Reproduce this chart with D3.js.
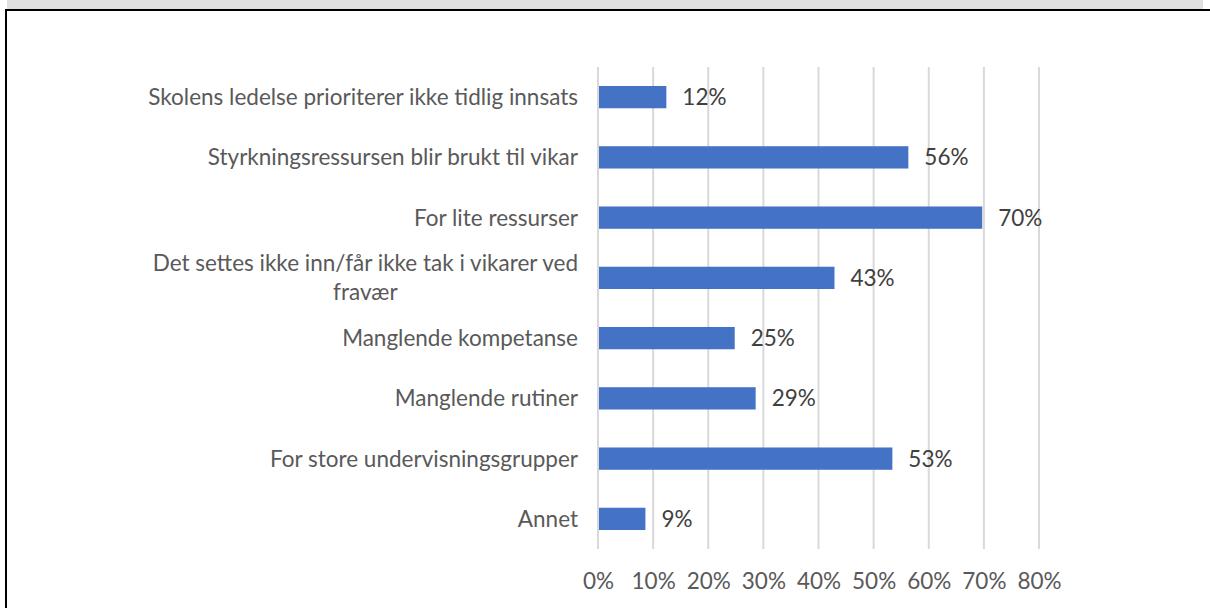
<!DOCTYPE html>
<html><head><meta charset="utf-8">
<script src="https://cdn.jsdelivr.net/npm/d3@7"></script>
<style>html,body{margin:0;padding:0;background:#fff;} svg{display:block}</style>
</head><body>
<svg id="c" width="1210" height="608"></svg>
<script>
const categories = [
  "Skolens ledelse prioriterer ikke tidlig innsats",
  "Styrkningsressursen blir brukt til vikar",
  "For lite ressurser",
  "Det settes ikke inn/får ikke tak i vikarer ved fravær",
  "Manglende kompetanse",
  "Manglende rutiner",
  "For store undervisningsgrupper",
  "Annet"
];
const values = [0.124, 0.563, 0.697, 0.429, 0.248, 0.286, 0.534, 0.086];
const tickValues = [0, 0.1, 0.2, 0.3, 0.4, 0.5, 0.6, 0.7, 0.8];

const FONT = "Lato, 'Open Sans', sans-serif";
const FS = 22.5;
const svg = d3.select("#c");

// frame
svg.append("rect").attr("x", 7).attr("y", 0).attr("width", 1196).attr("height", 9).attr("fill", "#e0e0e0");
svg.append("rect").attr("x", 5).attr("y", 9).attr("width", 1205).attr("height", 2).attr("fill", "#000");
svg.append("rect").attr("x", 5).attr("y", 9).attr("width", 2).attr("height", 599).attr("fill", "#000");

const x = d3.scaleLinear().domain([0, 0.8]).range([598, 1039]);
const y = d3.scaleBand().domain(categories).range([67, 549]).paddingInner(0.63).paddingOuter(0.315);

// gridlines
svg.append("g").selectAll("line").data(tickValues).join("line")
  .attr("x1", d => x(d)).attr("x2", d => x(d))
  .attr("y1", 67).attr("y2", 549)
  .attr("stroke", "#d9d9d9").attr("stroke-width", 2);

// x axis labels
const xAxis = d3.axisBottom(x).tickValues(tickValues).tickFormat(d3.format(".0%")).tickSize(0).tickPadding(0);
const gx = svg.append("g").attr("transform", "translate(0,573)").call(xAxis);
gx.select(".domain").remove();
gx.selectAll("text").attr("font-family", FONT).attr("font-size", FS).attr("fill", "#595959").attr("dy", null).attr("y", 16);

// bars
svg.append("g").selectAll("rect").data(values).join("rect")
  .attr("x", x(0) + 1)
  .attr("y", (d, i) => y(categories[i]))
  .attr("width", d => x(d) - x(0) - 1)
  .attr("height", y.bandwidth())
  .attr("fill", "#4472c4");

// data labels
svg.append("g").selectAll("text").data(values).join("text")
  .attr("x", d => x(d) + 16)
  .attr("y", (d, i) => y(categories[i]) + y.bandwidth() / 2)
  .attr("dy", "0.36em")
  .attr("font-family", FONT).attr("font-size", FS).attr("fill", "#404040")
  .text(d => d3.format(".0%")(d));

// category labels with wrapping
const yAxis = d3.axisLeft(y).tickSize(0).tickPadding(20);
const gy = svg.append("g").attr("transform", `translate(${x(0)},0)`).call(yAxis);
gy.select(".domain").remove();
gy.selectAll("text").attr("font-family", FONT).attr("font-size", FS).attr("fill", "#595959");

function wrap(texts, width) {
  texts.each(function() {
    const t = d3.select(this);
    const words = t.text().split(/\s+/);
    const lines = [];
    let line = [];
    t.text(null);
    const probe = t.append("tspan");
    for (const w of words) {
      line.push(w);
      probe.text(line.join(" "));
      if (probe.node().getComputedTextLength() > width && line.length > 1) {
        line.pop();
        lines.push(line.join(" "));
        line = [w];
      }
    }
    lines.push(line.join(" "));
    probe.remove();
    if (lines.length === 1) { t.text(lines[0]); return; }
    const widths = lines.map(l => { const s = t.append("tspan").text(l); const w = s.node().getComputedTextLength(); s.remove(); return w; });
    const maxW = d3.max(widths);
    const x0 = +t.attr("x");
    const lh = 29;
    const top = -(lines.length - 1) * lh / 2;
    lines.forEach((l, i) => {
      t.append("tspan")
        .attr("x", x0 - (maxW - widths[i]) / 2)
        .attr("y", top + i * lh)
        .attr("dy", "0.36em")
        .text(l);
    });
  });
}
gy.selectAll("text").attr("dy", "0.36em").call(wrap, 450);
</script>
</body></html>
